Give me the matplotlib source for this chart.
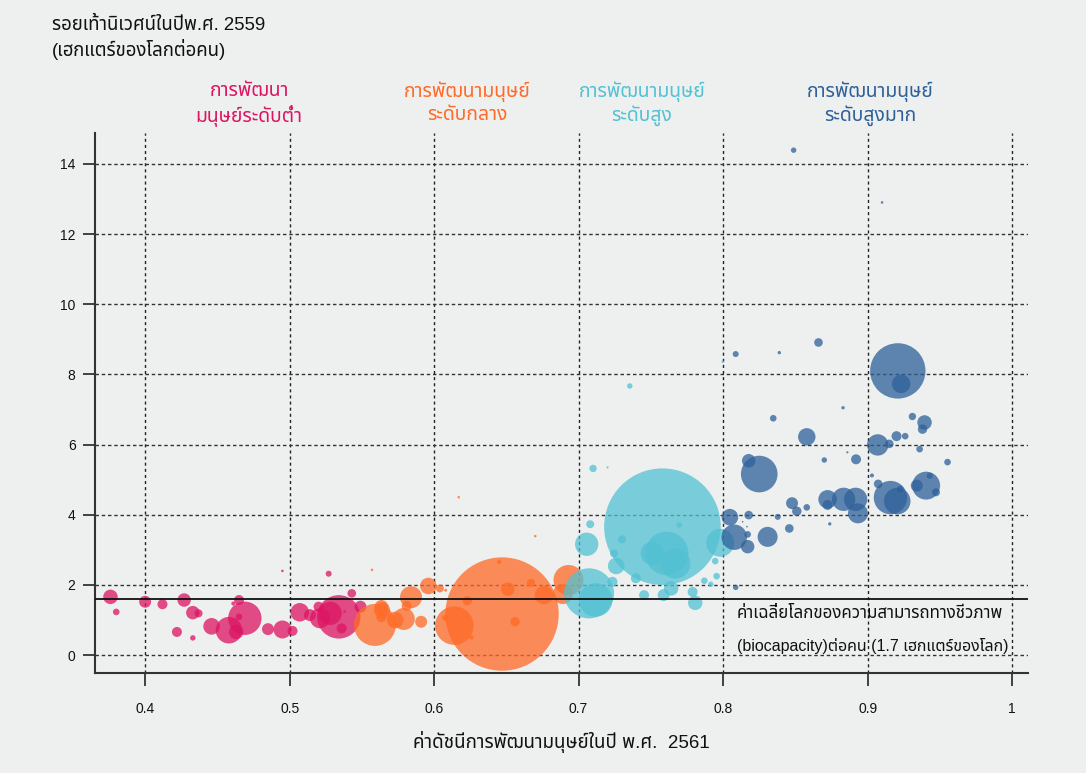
import matplotlib
matplotlib.use("Agg")
import matplotlib.pyplot as plt
import numpy as np

THAI = "Noto Sans Thai"
plt.rcParams['font.family'] = ["Liberation Sans", THAI, "Anuphan", "DejaVu Sans"]

# ---- data ----
low_hdi = [0.376, 0.380, 0.400, 0.412, 0.427, 0.433, 0.437, 0.422, 0.433, 0.446, 0.458, 0.463,
           0.469, 0.465, 0.465, 0.461, 0.485, 0.495, 0.502, 0.507, 0.514, 0.520, 0.521, 0.534,
           0.528, 0.536, 0.543, 0.549, 0.527, 0.495, 0.538]
low_fp = [1.66, 1.23, 1.52, 1.45, 1.57, 1.21, 1.19, 0.66, 0.49, 0.82, 0.71, 0.66,
          1.05, 1.09, 1.57, 1.47, 0.74, 0.73, 0.69, 1.22, 1.14, 1.38, 1.05, 1.09,
          1.19, 0.76, 1.76, 1.38, 2.32, 2.40, 1.24]
low_pop = [22, 4.6, 15, 10.5, 19, 19, 6.7, 10.5, 3.1, 29, 74, 22,
           117, 4.6, 10.5, 1.7, 15, 34, 10.5, 36, 15, 10.5, 42, 198,
           57, 10.5, 7.8, 15, 3.8, 0.7, 0.7]

med_hdi = [0.647, 0.614, 0.584, 0.596, 0.604, 0.608, 0.579, 0.573, 0.591, 0.581, 0.564, 0.559,
           0.693, 0.689, 0.676, 0.667, 0.651, 0.645, 0.656, 0.623, 0.608, 0.670, 0.617, 0.557,
           0.626, 0.5635, 0.5635]
med_fp = [1.17, 0.84, 1.65, 1.97, 1.90, 1.85, 1.03, 1.00, 0.95, 1.40, 1.28, 0.86,
          2.14, 1.74, 1.71, 2.06, 1.88, 2.66, 0.95, 1.55, 1.06, 3.39, 4.50, 2.43,
          0.50, 1.38, 1.08]
med_pop = [1350, 156, 51, 29, 6.7, 1.0, 51, 29, 15, 10.5, 27, 185,
           95, 42, 36, 6.7, 19, 2.2, 9.3, 9.3, 4.6, 0.7, 0.7, 0.7,
           1.7, 19, 10.5]

high_hdi = [0.758, 0.761, 0.751, 0.767, 0.7056, 0.708, 0.710, 0.720, 0.7354, 0.7997, 0.730, 0.7245,
            0.726, 0.7234, 0.7396, 0.7453, 0.7588, 0.764, 0.7789, 0.7807, 0.787, 0.7915, 0.7955,
            0.7945, 0.798, 0.7696, 0.7072, 0.7118]
high_fp = [3.66, 2.90, 2.90, 2.61, 3.16, 3.73, 5.32, 5.35, 7.67, 8.36, 3.30, 2.90,
           2.54, 2.09, 2.19, 1.71, 1.71, 1.90, 1.80, 1.49, 2.12, 2.02, 2.25,
           2.68, 3.20, 3.71, 1.76, 1.57]
high_pop = [1427, 198, 57, 95, 57, 6.7, 5.7, 0.5, 3.1, 0.7, 6.7, 6.7,
            29, 10.5, 10.5, 10.5, 15, 22, 10.5, 22, 4.6, 3.0, 4.6,
            4.6, 82, 3.1, 263, 117]

vhigh_hdi = [0.9209, 0.9232, 0.866, 0.8087, 0.8389, 0.883, 0.8347, 0.8579, 0.931, 0.9394, 0.938,
             0.920, 0.926, 0.907, 0.915, 0.936, 0.9553, 0.892, 0.886, 0.870, 0.825, 0.8177,
             0.903, 0.9158, 0.9205, 0.9225, 0.9073, 0.9405, 0.934, 0.943, 0.9473, 0.8917,
             0.8933, 0.8834, 0.8723, 0.8723, 0.8579, 0.8477, 0.851, 0.8378, 0.8458, 0.8308,
             0.8177, 0.8047, 0.8077, 0.8170, 0.817, 0.8738, 0.8087, 0.8488, 0.910, 0.8135, 0.8165]
vhigh_fp = [8.10, 7.73, 8.91, 8.58, 8.62, 7.05, 6.75, 6.22, 6.80, 6.63, 6.44,
            6.24, 6.24, 5.99, 6.02, 5.87, 5.50, 5.58, 5.78, 5.56, 5.16, 5.54,
            5.12, 4.49, 4.39, 4.73, 4.88, 4.83, 4.83, 5.11, 4.64, 4.44,
            4.04, 4.44, 4.44, 4.28, 4.21, 4.33, 4.10, 3.94, 3.61, 3.37,
            3.99, 3.93, 3.36, 3.09, 3.44, 3.74, 1.93, 14.39, 12.9, 3.80, 3.66]
vhigh_pop = [322, 36, 7.8, 3.8, 1.2, 1.2, 4.6, 32, 5.7, 22, 9.3,
             10.5, 4.6, 48, 7.8, 4.6, 4.6, 10.5, 0.5, 3.1, 141, 19,
             1.7, 117, 74, 4.6, 7.8, 82, 15, 3.8, 6.7, 57,
             42, 57, 36, 10.5, 4.6, 15, 9.3, 3.8, 7.8, 42,
             7.8, 29, 68, 19, 4.6, 1.2, 3.1, 3.1, 0.7, 0.3, 0.3]

group_labels = [("การพัฒนา", "มนุษย์ระดับต่ำ"), ("การพัฒนามนุษย์", "ระดับกลาง"),
                ("การพัฒนามนุษย์", "ระดับสูง"), ("การพัฒนามนุษย์", "ระดับสูงมาก")]
group_label_x = [0.472, 0.623, 0.744, 0.902]
group_colors = ["#DC1462", "#FF6A26", "#52C1D3", "#2D6099"]

x_ticks = [0.4, 0.5, 0.6, 0.7, 0.8, 0.9, 1.0]
x_tick_labels = ["0.4", "0.5", "0.6", "0.7", "0.8", "0.9", "1"]
y_ticks = [0, 2, 4, 6, 8, 10, 12, 14]
world_biocapacity = 1.6

title_lines = ["รอยเท้านิเวศน์ในปีพ.ศ. 2559", "(เฮกแตร์ของโลกต่อคน)"]
xlabel_text = "ค่าดัชนีการพัฒนามนุษย์ในปี พ.ศ.  2561"
annot_line1 = "ค่าเฉลี่ยโลกของความสามารถทางชีวภาพ"
annot_line2 = "(biocapacity)ต่อคน (1.7 เฮกแตร์ของโลก)"

# ---- figure ----
BG = "#EEF0EF"
W, H = 1086, 773
fig = plt.figure(figsize=(10.86, 7.73), dpi=100, facecolor=BG)
ax = fig.add_axes([95 / W, 1 - 673 / H, (1028 - 95) / W, (673 - 133) / H], facecolor=BG)
ax.set_xlim(0.3653, 1.011)
ax.set_ylim(-0.51, 14.88)

for xv in x_ticks:
    ax.axvline(xv, color="#222222", lw=1.0, ls=(0, (2.2, 2.2)), zorder=1)
for yv in y_ticks:
    ax.axhline(yv, color="#333333", lw=1.0, ls=(0, (2.5, 2.0)), zorder=1)

def sizes(pop):
    pop = np.asarray(pop, dtype=float)
    r_px = 56.7 * np.sqrt(pop / 1350.0)
    d_pt = 2 * r_px * 0.72
    return d_pt ** 2

groups = [(low_hdi, low_fp, low_pop), (med_hdi, med_fp, med_pop),
          (high_hdi, high_fp, high_pop), (vhigh_hdi, vhigh_fp, vhigh_pop)]
for (gx, gy, gp), col in zip(groups, group_colors):
    order = np.argsort(gp)[::-1]
    gx = np.asarray(gx)[order]; gy = np.asarray(gy)[order]; gp = np.asarray(gp)[order]
    ax.scatter(gx, gy, s=sizes(gp), color=col, alpha=0.75, edgecolors="none", zorder=3)

ax.axhline(world_biocapacity, color="#111111", lw=1.3, zorder=5)

for sp in ["top", "right"]:
    ax.spines[sp].set_visible(False)
for sp in ["left", "bottom"]:
    ax.spines[sp].set_color("#333333")
    ax.spines[sp].set_linewidth(1.5)

ax.set_xticks(x_ticks)
ax.set_xticklabels(x_tick_labels)
ax.set_yticks(y_ticks)
ax.tick_params(axis="both", direction="out", length=9, width=1.3, color="#333333",
               labelsize=10, labelcolor="#111111")
ax.tick_params(axis="x", pad=12)
ax.tick_params(axis="y", pad=5)

fig.text(561 / W, 1 - 742 / H, xlabel_text, fontsize=13.5, color="#111111",
         ha="center", va="center")

fig.text(52 / W, 1 - 25 / H, title_lines[0], fontsize=13.4, color="#111111", ha="left", va="center")
fig.text(52 / W, 1 - 50 / H, title_lines[1], fontsize=13.4, color="#111111", ha="left", va="center")

for (l1, l2), lx, col in zip(group_labels, group_label_x, group_colors):
    xf = (95 + (lx - 0.3653) / (1.011 - 0.3653) * (1028 - 95)) / W
    fig.text(xf, 1 - 92 / H, l1, fontsize=13.9, color=col, ha="center", va="center")
    fig.text(xf, 1 - 116 / H, l2, fontsize=13.9, color=col, ha="center", va="center")

ax.text(0.8095, 1.20, annot_line1, fontsize=12.2, color="#111111", ha="left", va="center")
ax.text(0.8095, 0.25, annot_line2, fontsize=11.5, color="#111111", ha="left", va="center")

fig.savefig("out.png", dpi=100, facecolor=BG)
